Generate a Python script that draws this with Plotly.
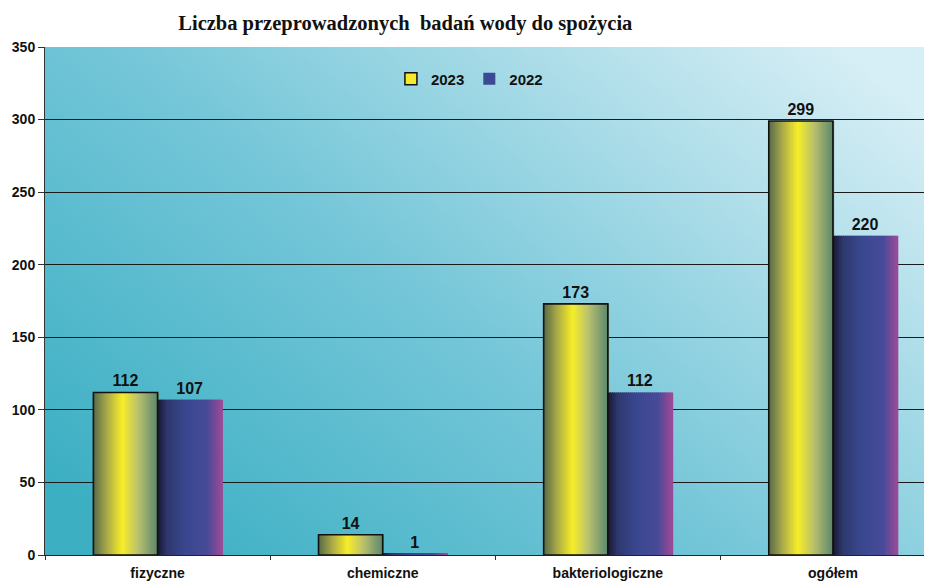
import base64
import plotly.graph_objects as go

categories = ["fizyczne", "chemiczne", "bakteriologiczne", "ogółem"]
values_2023 = [112, 14, 173, 299]
values_2022 = [107, 1, 112, 220]
series_names = ["2023", "2022"]
title_text = "Liczba przeprowadzonych  badań wody do spożycia"

# ---- style helpers ----
def hex2rgb(h):
    h = h.lstrip("#")
    return tuple(int(h[i:i + 2], 16) for i in (0, 2, 4))

def interp(stops, t):
    for (t0, c0), (t1, c1) in zip(stops, stops[1:]):
        if t0 <= t <= t1:
            f = (t - t0) / (t1 - t0) if t1 > t0 else 0
            a, b = hex2rgb(c0), hex2rgb(c1)
            r = [round(a[k] + (b[k] - a[k]) * f) for k in range(3)]
            return "rgb(%d,%d,%d)" % tuple(r)
    return stops[-1][1]

stops_2023 = [(0, "#566b48"), (0.2, "#a6a648"), (0.45, "#f7ee28"), (0.7, "#b9c06e"), (1.0, "#5c886c")]
stops_2022 = [(0, "#181830"), (0.15, "#2e386e"), (0.45, "#3a4890"), (0.78, "#484a98"), (1.0, "#9c4a98")]

W = 0.285
N = 32
label_font = dict(family="Liberation Sans", size=16, color="#111111", weight="bold")

fig = go.Figure()

# background gradient
svg = ('<svg xmlns="http://www.w3.org/2000/svg" width="100" height="100" preserveAspectRatio="none">'
       '<defs><linearGradient id="g" x1="0" y1="0.85" x2="1" y2="0.15">'
       '<stop offset="0" stop-color="#3cafc3"/>'
       '<stop offset="0.45" stop-color="#74c6d8"/>'
       '<stop offset="1" stop-color="#d6eef5"/>'
       '</linearGradient></defs><rect width="100" height="100" fill="url(#g)"/></svg>')
src = "data:image/svg+xml;base64," + base64.b64encode(svg.encode()).decode()

for vals, stops, off0 in [(values_2023, stops_2023, -W), (values_2022, stops_2022, 0.0)]:
    for i in range(N):
        t = (i + 0.5) / N
        fig.add_trace(go.Bar(
            x=categories, y=vals, width=W / N * 1.6, offset=off0 + i * W / N,
            marker=dict(color=interp(stops, t), line=dict(width=0)),
            showlegend=False, hoverinfo="skip"))

# outline + labels 2023
fig.add_trace(go.Bar(
    x=categories, y=values_2023, width=W, offset=-W,
    marker=dict(color="rgba(0,0,0,0)", line=dict(color="#111111", width=1.6)),
    text=[str(v) for v in values_2023], textposition="outside",
    textfont=label_font, cliponaxis=False, showlegend=False, name=series_names[0]))
# labels 2022
fig.add_trace(go.Bar(
    x=categories, y=values_2022, width=W, offset=0,
    marker=dict(color="rgba(0,0,0,0)", line=dict(width=0)),
    text=[str(v) for v in values_2022], textposition="outside",
    textfont=label_font, cliponaxis=False, showlegend=False, name=series_names[1]))

# legend entries
fig.add_trace(go.Bar(x=[None], y=[None], name=series_names[0],
                     marker=dict(color="#f2ea2a", line=dict(color="#111111", width=1.5))))
fig.add_trace(go.Bar(x=[None], y=[None], name=series_names[1],
                     marker=dict(color="#3c4a96", line=dict(width=0))))

# page body has an 8px margin: shrink the figure and margins accordingly
fig.update_layout(
    width=924, height=574,
    margin=dict(l=37, r=0, t=39, b=27, autoexpand=False),
    barmode="overlay",
    paper_bgcolor="white",
    plot_bgcolor="rgba(0,0,0,0)",
    images=[dict(source=src, xref="paper", yref="paper", x=0, y=1, sizex=1, sizey=1,
                 sizing="stretch", layer="below")],
    title=dict(text=title_text, x=0.43, xanchor="center", y=0.975, yanchor="middle",
               font=dict(family="Liberation Serif", size=20.5, color="#111111", weight="bold")),
    legend=dict(orientation="h", x=0.39, y=0.937, xanchor="left", yanchor="middle",
                bgcolor="rgba(0,0,0,0)", itemwidth=30,
                font=dict(family="Liberation Sans", size=15, color="#111111", weight="bold")),
    font=dict(family="Liberation Sans", color="#111111"),
    showlegend=True,
)

fig.update_xaxes(
    type="category", range=[-0.5, 3.44], tickson="boundaries",
    ticks="outside", ticklen=4, tickcolor="#333333",
    showline=True, linecolor="#222222", linewidth=1,
    showgrid=False, automargin=False, ticklabelstandoff=5,
    tickfont=dict(family="Liberation Sans", size=14, color="#111111", weight="bold"),
)
fig.update_yaxes(
    range=[0, 350], dtick=50, ticks="outside", ticklen=6, tickcolor="#333333",
    showgrid=True, gridcolor="#1a1a1a", gridwidth=1,
    showline=True, linecolor="#333333", linewidth=1,
    zeroline=False, automargin=False,
    tickfont=dict(family="Liberation Sans", size=14, color="#111111", weight="bold"),
)

fig.write_html("out.html")
